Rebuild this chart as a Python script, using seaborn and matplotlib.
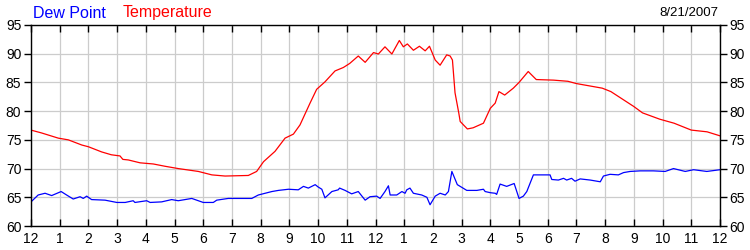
import matplotlib
matplotlib.use("Agg")
import matplotlib.pyplot as plt
import seaborn as sns
import pandas as pd

# Temperature (hours since midnight, deg F)
temp_hours = [0, 0.37, 0.95, 1.3, 1.77, 2.0, 2.46, 2.8, 3.1, 3.2, 3.39, 3.8, 4.26, 4.67, 5.13,
              5.83, 6.3, 6.76, 7.57, 7.86, 8.1, 8.5, 8.85, 9.14, 9.37, 9.72, 9.95, 10.24, 10.59,
              10.88, 11.1, 11.4, 11.64, 11.93, 12.1, 12.33, 12.57, 12.83, 12.97, 13.11, 13.32,
              13.53, 13.73, 13.88, 14.08, 14.25, 14.48, 14.6, 14.68, 14.77, 14.9, 14.95, 15.2,
              15.4, 15.76, 16.0, 16.17, 16.3, 16.5, 16.8, 17.0, 17.32, 17.6, 18.2, 18.7, 19.0,
              19.9, 20.2, 21.0, 21.3, 21.9, 22.4, 23.0, 23.55, 24.0]
temp_values = [76.7, 76.2, 75.3, 75.0, 74.1, 73.8, 72.9, 72.4, 72.2, 71.6, 71.5, 71.0, 70.8, 70.4, 70.0,
               69.5, 68.9, 68.7, 68.8, 69.5, 71.2, 73.0, 75.3, 76.0, 77.6, 81.4, 83.8, 85.1, 87.0,
               87.6, 88.3, 89.6, 88.5, 90.2, 89.95, 91.2, 89.95, 92.3, 91.2, 91.7, 90.6,
               91.3, 90.5, 91.3, 88.9, 88.0, 89.8, 89.6, 88.9, 83.2, 79.7, 78.2, 76.9,
               77.1, 77.9, 80.5, 81.4, 83.4, 82.8, 84.0, 85.0, 86.9, 85.5, 85.4, 85.2, 84.8,
               84.0, 83.4, 80.8, 79.7, 78.6, 77.9, 76.7, 76.4, 75.7]

# Dew point (hours since midnight, deg F)
dew_hours = [0, 0.25, 0.49, 0.72, 1.05, 1.24, 1.47, 1.71, 1.82, 1.94, 2.11, 2.58, 2.99, 3.28, 3.56,
             3.62, 4.03, 4.15, 4.55, 4.9, 5.13, 5.6, 6.0, 6.35, 6.47, 6.87, 7.69, 7.92, 8.39, 8.62,
             8.97, 9.31, 9.49, 9.66, 9.9, 10.0, 10.13, 10.24, 10.48, 10.7, 10.75, 10.94, 11.17,
             11.4, 11.64, 11.81, 12.04, 12.16, 12.33, 12.45, 12.51, 12.74, 12.92, 13.03, 13.09,
             13.2, 13.32, 13.61, 13.79, 13.9, 14.08, 14.25, 14.43, 14.54, 14.66, 14.85, 15.18,
             15.53, 15.76, 15.82, 16.0, 16.17, 16.22, 16.34, 16.57, 16.83, 17.0, 17.15, 17.27,
             17.5, 17.62, 18.08, 18.14, 18.37, 18.55, 18.66, 18.83, 18.95, 19.13, 19.48, 19.83,
             19.94, 20.17, 20.46, 20.64, 20.87, 21.22, 21.68, 22.09, 22.38, 22.79, 23.08, 23.54, 24.0]
dew_values = [64.2, 65.4, 65.7, 65.3, 66.0, 65.4, 64.7, 65.1, 64.8, 65.2, 64.6, 64.5, 64.1, 64.1, 64.4,
              64.1, 64.4, 64.1, 64.2, 64.6, 64.4, 64.8, 64.1, 64.1, 64.5, 64.8, 64.8, 65.4, 66.0, 66.2,
              66.4, 66.3, 66.9, 66.6, 67.2, 66.8, 66.4, 64.9, 66.0, 66.3, 66.6, 66.2, 65.6,
              66.0, 64.5, 65.1, 65.2, 64.8, 66.0, 67.0, 65.4, 65.4, 66.0, 65.7, 66.3,
              66.6, 65.7, 65.4, 65.0, 63.7, 65.2, 65.7, 65.4, 66.0, 69.5, 67.2, 66.2,
              66.2, 66.4, 66.0, 65.8, 65.7, 65.5, 67.3, 66.9, 67.4, 64.8, 65.2, 66.0,
              68.9, 68.9, 68.9, 68.1, 68.0, 68.3, 68.0, 68.3, 67.8, 68.2, 68.0, 67.7,
              68.7, 69.0, 68.9, 69.3, 69.5, 69.6, 69.6, 69.5, 70.0, 69.5, 69.8, 69.5, 69.8]

x_tick_labels = ["12", "1", "2", "3", "4", "5", "6", "7", "8", "9", "10", "11",
                 "12", "1", "2", "3", "4", "5", "6", "7", "8", "9", "10", "11", "12"]
y_ticks = [60, 65, 70, 75, 80, 85, 90, 95]
date_label = "8/21/2007"

sns.set_theme(style="white")
plt.rcParams['font.family'] = ['Liberation Sans', 'DejaVu Sans']

temp_df = pd.DataFrame({"hour": temp_hours, "value": temp_values})
dew_df = pd.DataFrame({"hour": dew_hours, "value": dew_values})

fig = plt.figure(figsize=(7.5, 2.5), dpi=100)
ax = fig.add_axes([31 / 750, 1 - 226 / 250, (720 - 31) / 750, (226 - 25) / 250])

sns.lineplot(data=temp_df, x="hour", y="value", ax=ax, color="#FF0000", linewidth=0.9)
sns.lineplot(data=dew_df, x="hour", y="value", ax=ax, color="#0000FF", linewidth=0.9)

ax.set_xlim(0, 24)
ax.set_ylim(60, 95)
ax.set_xticks(range(25))
ax.set_xticklabels(x_tick_labels)
ax.set_yticks(y_ticks)
ax.set_yticklabels([str(v) for v in y_ticks])
ax.set_xlabel("")
ax.set_ylabel("")

ax.grid(True, color="#CCCCCC", linewidth=0.9)
ax.set_axisbelow(True)
for s in ax.spines.values():
    s.set_color("black")
    s.set_linewidth(1.0)

ax.tick_params(axis="x", direction="in", top=True, bottom=True, length=5, width=1,
               color="black", labelsize=10, labelcolor="black", pad=4)
ax.tick_params(axis="y", direction="out", left=True, right=True, labelright=True,
               length=5, width=1, color="black", labelsize=10, labelcolor="black", pad=2)

fig.text(33 / 750, 1 - 13 / 250, "Dew Point", color="#0000FF", fontsize=11.5, va="center", ha="left")
fig.text(123 / 750, 1 - 13 / 250, "Temperature", color="#FF0000", fontsize=11.5, va="center", ha="left")
fig.text(718 / 750, 1 - 13 / 250, date_label, color="black", fontsize=9.5, va="center", ha="right")

fig.savefig("out.png", dpi=100, facecolor="white")
